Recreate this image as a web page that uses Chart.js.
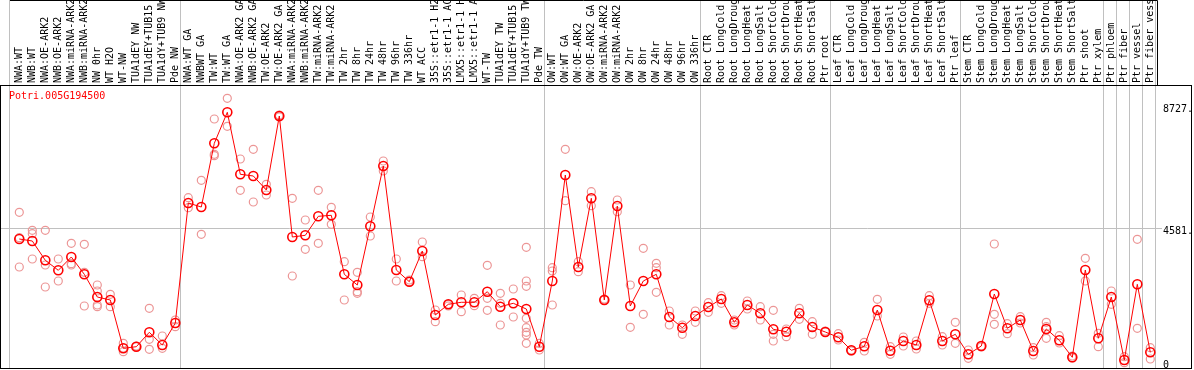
<!DOCTYPE html>
<html>
<head>
<meta charset="utf-8">
<script src="https://cdn.jsdelivr.net/npm/chart.js@4"></script>
<style>
  html, body { margin: 0; padding: 0; background: #fff; }
  canvas { display: block; }
</style>
</head>
<body>
<canvas id="exprChart" width="1194" height="370"></canvas>
<script>
const geneName = 'Potri.005G194500';

// sample names, left to right
const sampleLabels = [
  'NWA:WT', 'NWB:WT', 'NWA:OE-ARK2', 'NWB:OE-ARK2', 'NWA:miRNA-ARK2', 'NWB:miRNA-ARK2',
  'NW 0hr', 'WT H2O', 'WT-NW', 'TUA1dEY NW', 'TUA1dEY+TUB15 NW', 'TUA1dY+TUB9 NW', 'Pde NW',
  'NWA:WT GA', 'NWBWT GA', 'TW:WT', 'TW:WT GA', 'NWA:OE-ARK2 GA', 'NWB:OE-ARK2 GA',
  'TW:OE-ARK2', 'TW:OE-ARK2 GA', 'NWA:miRNA-ARK2', 'NWB:miRNA-ARK2', 'TW:miRNA-ARK2', 'TW:miRNA-ARK2',
  'TW 2hr', 'TW 8hr', 'TW 24hr', 'TW 48hr', 'TW 96hr', 'TW 336hr', 'WT ACC',
  '35S::etr1-1 H2O', '35S::etr1-1 ACC', 'LMX5::etr1-1 H2O', 'LMX5::etr1-1 ACC',
  'WT-TW', 'TUA1dEY TW', 'TUA1dEY+TUB15 TW', 'TUA1dY+TUB9 TW', 'Pde TW',
  'OW:WT', 'OW:WT GA', 'OW:OE-ARK2', 'OW:OE-ARK2 GA', 'OW:miRNA-ARK2', 'OW:miRNA-ARK2',
  'OW 2hr', 'OW 8hr', 'OW 24hr', 'OW 48hr', 'OW 96hr', 'OW 336hr',
  'Root CTR', 'Root LongCold', 'Root LongDrought', 'Root LongHeat', 'Root LongSalt',
  'Root ShortCold', 'Root ShortDrought', 'Root ShortHeat', 'Root ShortSalt', 'Ptr root',
  'Leaf CTR', 'Leaf LongCold', 'Leaf LongDrought', 'Leaf LongHeat', 'Leaf LongSalt',
  'Leaf ShortCold', 'Leaf ShortDrought', 'Leaf ShortHeat', 'Leaf ShortSalt', 'Ptr leaf',
  'Stem CTR', 'Stem LongCold', 'Stem LongDrought', 'Stem LongHeat', 'Stem LongSalt',
  'Stem ShortCold', 'Stem ShortDrought', 'Stem ShortHeat', 'Stem ShortSalt', 'Ptr shoot', 'Ptr xylem',
  'Ptr phloem', 'Ptr fiber', 'Ptr vessel', 'Ptr fiber vessel'
];

// how many samples sit in each block between grey separators
const groupSizes = [13, 28, 12, 10, 10, 11, 1, 1, 1, 1];

// mean expression per sample
const meanValues = [
  4216, 4148, 3490, 3149, 3603, 3013, 2239, 2137, 491, 545, 1036, 603, 1353,
  5443, 5307, 7478, 8535, 6422, 6364, 5886, 8409, 4285, 4342, 4990, 5024,
  3013, 2648, 4649, 6705, 3160, 2761, 3807, 1626, 1991, 2059, 2059, 2420, 1909, 2025, 1830, 545,
  2785, 6398, 3262, 5604, 2137, 5341, 1933, 2785, 3013, 1558, 1193, 1592,
  1899, 2171, 1377, 1967, 1684, 1138, 1057, 1684, 1217, 1046,
  866, 423, 559, 1796, 409, 740, 603, 2127, 740, 968,
  286, 569, 2342, 1173, 1455, 399, 1149, 763, 184, 3160, 832,
  2239, 92, 2672, 354
];

// individual replicates per sample
const replicateValues = [
  [5126, 4260, 3262], [4513, 4397, 3535], [4513, 3330, 2580], [3535, 2785], [4070, 3374, 3330],
  [4036, 3081, 1933], [2648, 2444, 1909, 1967], [2331, 1909], [661, 375, 501], [545, 569],
  [1854, 798, 457], [910, 491], [1455, 1227],
  [5624, 5283], [6217, 4377], [8306, 7103, 7056], [9012, 8058], [6943, 5876], [7272, 5477],
  [6081, 5716], [8409, 8443, 8375], [5604, 2955], [4864, 3865], [5876, 4070], [5297, 4717],
  [3443, 2137], [3081, 2420, 2365], [4966, 4319], [6875, 6535], [3535, 2785], [2761, 2819],
  [4114, 3613], [1796, 1397], [1991, 1933], [2308, 1738], [2195, 1943], [3320, 2195, 1786],
  [2365, 2025, 1285], [2512, 1558], [3933, 2785, 2604, 1513, 1193, 1036, 944, 661], [433, 657],
  [3238, 3126, 1967], [7272, 5522], [3443, 3102], [5829, 5351], [2137, 2171], [5546, 5147],
  [2648, 1207], [3899, 1650], [3388, 3238, 2400], [1762, 1285], [1285, 968], [1762, 1377],
  [2045, 1718], [2284, 2025], [1455, 1285], [2103, 1830], [1909, 1455], [1786, 968, 740],
  [1149, 886], [1854, 1479], [1397, 968], [1046, 1080],
  [988, 774], [433, 399], [695, 399], [2161, 1592], [545, 286], [876, 569], [740, 467],
  [2284, 2025], [886, 603], [1377, 661],
  [433, 150], [569, 535], [4046, 1650, 1309], [1329, 988], [1568, 1353], [511, 262],
  [1377, 1227, 832], [920, 671], [228, 160], [3558, 2785], [1002, 545],
  [2444, 1991], [205, 0], [4206, 1173], [511, 126]
];

const yTickValues = [0, 4581, 8727];
const yTickLabels = ['0', '4581.', '8727.'];

const monoFont = { family: "'DejaVu Sans Mono', monospace", size: 10 };
const gridGrey = '#c0c0c0';

// separator lines: one before the first sample, then after every block
const separatorPositions = [-0.72];
let runningEnd = -1;
groupSizes.forEach(n => {
  runningEnd += n;
  separatorPositions.push(runningEnd + 0.37);
});

const meanPoints = meanValues.map((v, i) => ({ x: i, y: v }));
const replicatePoints = [];
replicateValues.forEach((reps, i) => {
  reps.forEach(v => replicatePoints.push({ x: i, y: v }));
});

// black frames and the gene name inside the plot
const framePlugin = {
  id: 'frame',
  afterDraw(chart) {
    const { ctx, chartArea } = chart;
    ctx.save();
    ctx.strokeStyle = '#000';
    ctx.lineWidth = 1;
    ctx.strokeRect(0.5, chartArea.top + 0.5, chart.width - 3, chartArea.bottom - chartArea.top);
    ctx.beginPath();
    ctx.moveTo(10, 0.5);
    ctx.lineTo(chartArea.right + 0.5, 0.5);
    ctx.lineTo(chartArea.right + 0.5, chartArea.top);
    ctx.stroke();
    ctx.fillStyle = '#ff0000';
    ctx.font = `${monoFont.size}px ${monoFont.family}`;
    ctx.textBaseline = 'middle';
    ctx.fillText(geneName, chartArea.left + 9, chartArea.top + 11);
    ctx.restore();
  }
};

const ctx = document.getElementById('exprChart').getContext('2d');
new Chart(ctx, {
  type: 'line',
  data: {
    datasets: [{
      label: 'mean',
      data: meanPoints,
      borderColor: '#ff0000',
      borderWidth: 1,
      pointRadius: 4.5,
      pointBorderWidth: 1.6,
      pointBorderColor: '#ff0000',
      pointBackgroundColor: 'rgba(255,255,255,0)',
      fill: false,
      tension: 0,
      order: 0
    }, {
      label: 'replicates',
      data: replicatePoints,
      showLine: false,
      pointRadius: 4,
      pointBorderWidth: 1.2,
      pointBorderColor: 'rgb(236,150,150)',
      pointBackgroundColor: 'rgba(255,255,255,0)',
      order: 1
    }]
  },
  options: {
    responsive: false,
    animation: false,
    devicePixelRatio: 1,
    layout: { autoPadding: false, padding: { left: 0, top: 0, right: 2, bottom: 2 } },
    plugins: {
      legend: { display: false },
      tooltip: { enabled: false }
    },
    scales: {
      x: {
        type: 'linear',
        position: 'top',
        min: -19.3 / 13,
        max: 1137.7 / 13,
        afterBuildTicks: scale => {
          const ticks = sampleLabels.map((_, i) => ({ value: i }));
          separatorPositions.forEach(v => ticks.push({ value: v }));
          ticks.sort((a, b) => a.value - b.value);
          scale.ticks = ticks;
        },
        afterFit: scale => {
          scale.height = 85;
          scale.paddingLeft = 0;
          scale.paddingRight = 0;
        },
        grid: {
          color: c => (c.tick && Number.isInteger(c.tick.value)) ? 'rgba(0,0,0,0)' : gridGrey,
          lineWidth: 1,
          drawTicks: true,
          tickLength: 85
        },
        border: { display: false },
        ticks: {
          autoSkip: false,
          maxRotation: 90,
          minRotation: 90,
          padding: -83,
          labelOffset: 12,
          color: '#000',
          font: monoFont,
          callback: v => Number.isInteger(v) ? sampleLabels[v] : ''
        }
      },
      y: {
        type: 'linear',
        position: 'right',
        min: -180.6,
        max: 9465.4,
        afterBuildTicks: scale => {
          scale.ticks = yTickValues.map(v => ({ value: v }));
        },
        afterFit: scale => {
          scale.width = 35;
          scale.paddingTop = 0;
          scale.paddingBottom = 0;
        },
        grid: {
          color: c => (c.tick && c.tick.value === 4581) ? gridGrey : 'rgba(0,0,0,0)',
          tickLength: 5
        },
        border: { display: false },
        ticks: {
          padding: 1,
          labelOffset: 3,
          color: '#000',
          font: monoFont,
          callback: v => yTickLabels[yTickValues.indexOf(v)]
        }
      }
    }
  },
  plugins: [framePlugin]
});
</script>
</body>
</html>
